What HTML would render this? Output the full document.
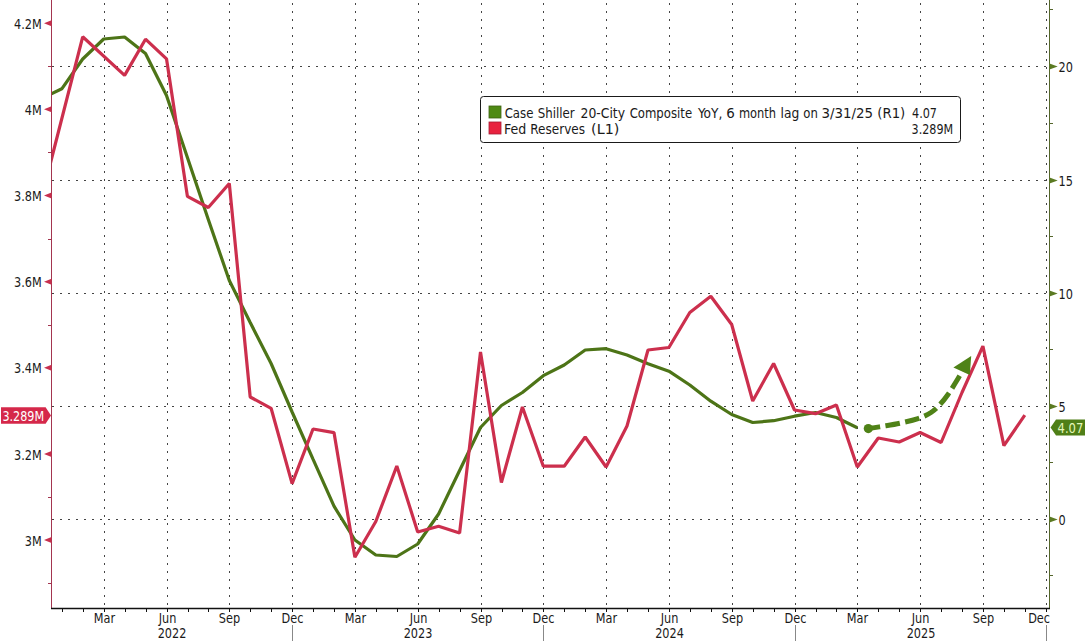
<!DOCTYPE html>
<html><head><meta charset="utf-8"><title>Case Shiller vs Fed Reserves</title>
<style>html,body{margin:0;padding:0;background:#fff;width:1085px;height:641px;overflow:hidden}body{position:relative}</style>
</head><body>
<svg width="1085" height="641" viewBox="0 0 1085 641" style="position:absolute;left:0;top:0">
<defs><clipPath id="plot"><rect x="52" y="0" width="997" height="608"/></clipPath></defs>
<line x1="52" y1="66.5" x2="1046.5" y2="66.5" stroke="#444" stroke-width="1" stroke-dasharray="2 6"/>
<line x1="52" y1="180.5" x2="1046.5" y2="180.5" stroke="#444" stroke-width="1" stroke-dasharray="2 6"/>
<line x1="52" y1="293.5" x2="1046.5" y2="293.5" stroke="#444" stroke-width="1" stroke-dasharray="2 6"/>
<line x1="52" y1="406.5" x2="1046.5" y2="406.5" stroke="#444" stroke-width="1" stroke-dasharray="2 6"/>
<line x1="52" y1="519.5" x2="1046.5" y2="519.5" stroke="#444" stroke-width="1" stroke-dasharray="2 6"/>
<line x1="104.5" y1="0" x2="104.5" y2="607.5" stroke="#444" stroke-width="1" stroke-dasharray="2 6" stroke-dashoffset="5"/>
<line x1="167.5" y1="0" x2="167.5" y2="607.5" stroke="#444" stroke-width="1" stroke-dasharray="2 6" stroke-dashoffset="5"/>
<line x1="229.5" y1="0" x2="229.5" y2="607.5" stroke="#444" stroke-width="1" stroke-dasharray="2 6" stroke-dashoffset="5"/>
<line x1="292.5" y1="0" x2="292.5" y2="607.5" stroke="#444" stroke-width="1" stroke-dasharray="2 6" stroke-dashoffset="5"/>
<line x1="355.5" y1="0" x2="355.5" y2="607.5" stroke="#444" stroke-width="1" stroke-dasharray="2 6" stroke-dashoffset="5"/>
<line x1="418.5" y1="0" x2="418.5" y2="607.5" stroke="#444" stroke-width="1" stroke-dasharray="2 6" stroke-dashoffset="5"/>
<line x1="481.5" y1="0" x2="481.5" y2="607.5" stroke="#444" stroke-width="1" stroke-dasharray="2 6" stroke-dashoffset="5"/>
<line x1="543.5" y1="0" x2="543.5" y2="607.5" stroke="#444" stroke-width="1" stroke-dasharray="2 6" stroke-dashoffset="5"/>
<line x1="606.5" y1="0" x2="606.5" y2="607.5" stroke="#444" stroke-width="1" stroke-dasharray="2 6" stroke-dashoffset="5"/>
<line x1="669.5" y1="0" x2="669.5" y2="607.5" stroke="#444" stroke-width="1" stroke-dasharray="2 6" stroke-dashoffset="5"/>
<line x1="732.5" y1="0" x2="732.5" y2="607.5" stroke="#444" stroke-width="1" stroke-dasharray="2 6" stroke-dashoffset="5"/>
<line x1="795.5" y1="0" x2="795.5" y2="607.5" stroke="#444" stroke-width="1" stroke-dasharray="2 6" stroke-dashoffset="5"/>
<line x1="857.5" y1="0" x2="857.5" y2="607.5" stroke="#444" stroke-width="1" stroke-dasharray="2 6" stroke-dashoffset="5"/>
<line x1="920.5" y1="0" x2="920.5" y2="607.5" stroke="#444" stroke-width="1" stroke-dasharray="2 6" stroke-dashoffset="5"/>
<line x1="983.5" y1="0" x2="983.5" y2="607.5" stroke="#444" stroke-width="1" stroke-dasharray="2 6" stroke-dashoffset="5"/>
<line x1="1046.5" y1="0" x2="1046.5" y2="607.5" stroke="#444" stroke-width="1" stroke-dasharray="2 6" stroke-dashoffset="5"/>
<g clip-path="url(#plot)" fill="none" stroke-linejoin="bevel" stroke-linecap="butt">
<polyline points="40.9,99.0 61.8,88.8 82.7,59.0 103.7,39.0 124.6,37.0 145.5,53.5 166.5,95.5 187.4,157.5 208.3,219.5 229.3,280.5 250.2,322.5 271.1,363.5 292.1,412.0 313.0,459.2 334.0,506.2 354.9,540.0 375.8,555.0 396.8,556.5 417.7,544.0 438.6,514.0 459.6,470.5 480.5,427.5 501.4,405.5 522.4,392.5 543.3,375.7 564.2,365.0 585.2,350.0 606.1,348.7 627.0,355.0 648.0,363.7 668.9,371.2 689.8,385.0 710.8,401.2 731.7,414.5 752.7,422.5 773.6,420.7 794.5,416.2 815.5,412.5 836.4,417.5 857.3,427.8" stroke="#4d7417" stroke-width="3.2"/>
<polyline points="40.9,200.5 82.7,36.8 124.6,75.4 145.5,39.2 166.5,58.8 187.4,196.3 208.3,207.5 229.3,183.5 250.2,397.0 271.1,408.3 292.1,483.6 313.0,429.0 334.0,432.6 354.9,557.3 375.8,521.5 396.8,466.0 417.7,532.0 438.6,526.2 459.6,533.0 480.5,352.0 501.4,482.5 522.4,407.0 543.3,466.2 564.2,466.2 585.2,437.0 606.1,467.0 627.0,426.0 648.0,350.0 668.9,347.5 689.8,312.5 710.8,296.2 731.7,324.5 752.7,401.0 773.6,363.5 794.5,410.0 815.5,413.7 836.4,405.0 857.3,467.0 878.3,438.0 899.2,442.0 920.1,432.5 941.1,442.5 962.0,392.5 982.9,346.2 1003.9,445.7 1024.8,415.2" stroke="#cc2f4d" stroke-width="3.2"/>
</g>
<path d="M868.3,428.6 C870.6,428.2 876.7,427.3 882,426.4 C887.3,425.5 894.0,424.5 900,423.2 C906.0,421.9 912.8,420.4 918,418.6 C923.2,416.8 927.3,414.9 931,412.5 C934.7,410.1 937.2,407.5 940,404.5 C942.8,401.5 945.5,398.0 948,394.5 C950.5,391.0 952.6,387.4 955,383.5 C957.4,379.6 960.8,373.9 962.5,371 C964.2,368.1 965.0,366.8 965.5,366" fill="none" stroke="#4f8217" stroke-width="5" stroke-dasharray="14.5 5.5" stroke-dashoffset="2.5"/>
<circle cx="868.3" cy="428.6" r="4.6" fill="#4f8217"/>
<polygon points="971.2,356 953.4,367.5 969.8,375" fill="#4f8217"/>
<line x1="51.5" y1="0" x2="51.5" y2="608.5" stroke="#a3354f" stroke-width="1"/>
<polygon points="51.5,20.2 51.5,26.2 44.0,23.2" fill="#c8304e"/>
<text transform="translate(41.70 28.80) scale(0.945 1)" text-anchor="end" font-family="'DejaVu Sans Condensed','DejaVu Sans','Liberation Sans',sans-serif" font-size="13.3" fill="#1a1a1a">4.2M</text>
<polygon points="51.5,106.35000000000008 51.5,112.35000000000008 44.0,109.35000000000008" fill="#c8304e"/>
<text transform="translate(41.70 114.95) scale(0.945 1)" text-anchor="end" font-family="'DejaVu Sans Condensed','DejaVu Sans','Liberation Sans',sans-serif" font-size="13.3" fill="#1a1a1a">4M</text>
<polygon points="51.5,192.50000000000014 51.5,198.50000000000014 44.0,195.50000000000014" fill="#c8304e"/>
<text transform="translate(41.70 201.10) scale(0.945 1)" text-anchor="end" font-family="'DejaVu Sans Condensed','DejaVu Sans','Liberation Sans',sans-serif" font-size="13.3" fill="#1a1a1a">3.8M</text>
<polygon points="51.5,278.65000000000003 51.5,284.65000000000003 44.0,281.65000000000003" fill="#c8304e"/>
<text transform="translate(41.70 287.25) scale(0.945 1)" text-anchor="end" font-family="'DejaVu Sans Condensed','DejaVu Sans','Liberation Sans',sans-serif" font-size="13.3" fill="#1a1a1a">3.6M</text>
<polygon points="51.5,364.80000000000007 51.5,370.80000000000007 44.0,367.80000000000007" fill="#c8304e"/>
<text transform="translate(41.70 373.40) scale(0.945 1)" text-anchor="end" font-family="'DejaVu Sans Condensed','DejaVu Sans','Liberation Sans',sans-serif" font-size="13.3" fill="#1a1a1a">3.4M</text>
<polygon points="51.5,450.95 51.5,456.95 44.0,453.95" fill="#c8304e"/>
<text transform="translate(41.70 459.55) scale(0.945 1)" text-anchor="end" font-family="'DejaVu Sans Condensed','DejaVu Sans','Liberation Sans',sans-serif" font-size="13.3" fill="#1a1a1a">3.2M</text>
<polygon points="51.5,537.1000000000001 51.5,543.1000000000001 44.0,540.1000000000001" fill="#c8304e"/>
<text transform="translate(41.70 545.70) scale(0.945 1)" text-anchor="end" font-family="'DejaVu Sans Condensed','DejaVu Sans','Liberation Sans',sans-serif" font-size="13.3" fill="#1a1a1a">3M</text>
<line x1="48.0" y1="66.5" x2="51.5" y2="66.5" stroke="#a3354f" stroke-width="1"/>
<line x1="48.0" y1="152.5" x2="51.5" y2="152.5" stroke="#a3354f" stroke-width="1"/>
<line x1="48.0" y1="239.5" x2="51.5" y2="239.5" stroke="#a3354f" stroke-width="1"/>
<line x1="48.0" y1="325.5" x2="51.5" y2="325.5" stroke="#a3354f" stroke-width="1"/>
<line x1="48.0" y1="497.5" x2="51.5" y2="497.5" stroke="#a3354f" stroke-width="1"/>
<line x1="48.0" y1="583.5" x2="51.5" y2="583.5" stroke="#a3354f" stroke-width="1"/>
<line x1="1049.5" y1="0" x2="1049.5" y2="608.5" stroke="#55662c" stroke-width="1"/>
<polygon points="1049.5,63.5 1049.5,69.5 1057.7,66.5" fill="#5b7a22"/>
<text transform="translate(1058.60 71.70) scale(0.945 1)" font-family="'DejaVu Sans Condensed','DejaVu Sans','Liberation Sans',sans-serif" font-size="13.3" fill="#1a1a1a">20</text>
<polygon points="1049.5,177.5 1049.5,183.5 1057.7,180.5" fill="#5b7a22"/>
<text transform="translate(1058.60 185.70) scale(0.945 1)" font-family="'DejaVu Sans Condensed','DejaVu Sans','Liberation Sans',sans-serif" font-size="13.3" fill="#1a1a1a">15</text>
<polygon points="1049.5,290.5 1049.5,296.5 1057.7,293.5" fill="#5b7a22"/>
<text transform="translate(1058.60 298.70) scale(0.945 1)" font-family="'DejaVu Sans Condensed','DejaVu Sans','Liberation Sans',sans-serif" font-size="13.3" fill="#1a1a1a">10</text>
<polygon points="1049.5,403.5 1049.5,409.5 1057.7,406.5" fill="#5b7a22"/>
<text transform="translate(1058.60 411.70) scale(0.945 1)" font-family="'DejaVu Sans Condensed','DejaVu Sans','Liberation Sans',sans-serif" font-size="13.3" fill="#1a1a1a">5</text>
<polygon points="1049.5,516.5 1049.5,522.5 1057.7,519.5" fill="#5b7a22"/>
<text transform="translate(1058.60 524.70) scale(0.945 1)" font-family="'DejaVu Sans Condensed','DejaVu Sans','Liberation Sans',sans-serif" font-size="13.3" fill="#1a1a1a">0</text>
<line x1="1049.5" y1="9.5" x2="1053.0" y2="9.5" stroke="#55662c" stroke-width="1"/>
<line x1="1049.5" y1="123.5" x2="1053.0" y2="123.5" stroke="#55662c" stroke-width="1"/>
<line x1="1049.5" y1="236.5" x2="1053.0" y2="236.5" stroke="#55662c" stroke-width="1"/>
<line x1="1049.5" y1="349.5" x2="1053.0" y2="349.5" stroke="#55662c" stroke-width="1"/>
<line x1="1049.5" y1="462.5" x2="1053.0" y2="462.5" stroke="#55662c" stroke-width="1"/>
<line x1="1049.5" y1="575.5" x2="1053.0" y2="575.5" stroke="#55662c" stroke-width="1"/>
<line x1="51.0" y1="608.5" x2="1050.0" y2="608.5" stroke="#111" stroke-width="1.3"/>
<line x1="62.5" y1="608.5" x2="62.5" y2="612.0" stroke="#111" stroke-width="1"/>
<line x1="83.5" y1="608.5" x2="83.5" y2="612.0" stroke="#111" stroke-width="1"/>
<line x1="104.5" y1="608.5" x2="104.5" y2="612.0" stroke="#111" stroke-width="1"/>
<line x1="125.5" y1="608.5" x2="125.5" y2="612.0" stroke="#111" stroke-width="1"/>
<line x1="146.5" y1="608.5" x2="146.5" y2="612.0" stroke="#111" stroke-width="1"/>
<line x1="167.5" y1="608.5" x2="167.5" y2="612.0" stroke="#111" stroke-width="1"/>
<line x1="188.5" y1="608.5" x2="188.5" y2="612.0" stroke="#111" stroke-width="1"/>
<line x1="208.5" y1="608.5" x2="208.5" y2="612.0" stroke="#111" stroke-width="1"/>
<line x1="229.5" y1="608.5" x2="229.5" y2="612.0" stroke="#111" stroke-width="1"/>
<line x1="250.5" y1="608.5" x2="250.5" y2="612.0" stroke="#111" stroke-width="1"/>
<line x1="271.5" y1="608.5" x2="271.5" y2="612.0" stroke="#111" stroke-width="1"/>
<line x1="292.5" y1="608.5" x2="292.5" y2="612.0" stroke="#111" stroke-width="1"/>
<line x1="313.5" y1="608.5" x2="313.5" y2="612.0" stroke="#111" stroke-width="1"/>
<line x1="334.5" y1="608.5" x2="334.5" y2="612.0" stroke="#111" stroke-width="1"/>
<line x1="355.5" y1="608.5" x2="355.5" y2="612.0" stroke="#111" stroke-width="1"/>
<line x1="376.5" y1="608.5" x2="376.5" y2="612.0" stroke="#111" stroke-width="1"/>
<line x1="397.5" y1="608.5" x2="397.5" y2="612.0" stroke="#111" stroke-width="1"/>
<line x1="418.5" y1="608.5" x2="418.5" y2="612.0" stroke="#111" stroke-width="1"/>
<line x1="439.5" y1="608.5" x2="439.5" y2="612.0" stroke="#111" stroke-width="1"/>
<line x1="460.5" y1="608.5" x2="460.5" y2="612.0" stroke="#111" stroke-width="1"/>
<line x1="481.5" y1="608.5" x2="481.5" y2="612.0" stroke="#111" stroke-width="1"/>
<line x1="502.5" y1="608.5" x2="502.5" y2="612.0" stroke="#111" stroke-width="1"/>
<line x1="522.5" y1="608.5" x2="522.5" y2="612.0" stroke="#111" stroke-width="1"/>
<line x1="543.5" y1="608.5" x2="543.5" y2="612.0" stroke="#111" stroke-width="1"/>
<line x1="564.5" y1="608.5" x2="564.5" y2="612.0" stroke="#111" stroke-width="1"/>
<line x1="585.5" y1="608.5" x2="585.5" y2="612.0" stroke="#111" stroke-width="1"/>
<line x1="606.5" y1="608.5" x2="606.5" y2="612.0" stroke="#111" stroke-width="1"/>
<line x1="627.5" y1="608.5" x2="627.5" y2="612.0" stroke="#111" stroke-width="1"/>
<line x1="648.5" y1="608.5" x2="648.5" y2="612.0" stroke="#111" stroke-width="1"/>
<line x1="669.5" y1="608.5" x2="669.5" y2="612.0" stroke="#111" stroke-width="1"/>
<line x1="690.5" y1="608.5" x2="690.5" y2="612.0" stroke="#111" stroke-width="1"/>
<line x1="711.5" y1="608.5" x2="711.5" y2="612.0" stroke="#111" stroke-width="1"/>
<line x1="732.5" y1="608.5" x2="732.5" y2="612.0" stroke="#111" stroke-width="1"/>
<line x1="753.5" y1="608.5" x2="753.5" y2="612.0" stroke="#111" stroke-width="1"/>
<line x1="774.5" y1="608.5" x2="774.5" y2="612.0" stroke="#111" stroke-width="1"/>
<line x1="795.5" y1="608.5" x2="795.5" y2="612.0" stroke="#111" stroke-width="1"/>
<line x1="816.5" y1="608.5" x2="816.5" y2="612.0" stroke="#111" stroke-width="1"/>
<line x1="836.5" y1="608.5" x2="836.5" y2="612.0" stroke="#111" stroke-width="1"/>
<line x1="857.5" y1="608.5" x2="857.5" y2="612.0" stroke="#111" stroke-width="1"/>
<line x1="878.5" y1="608.5" x2="878.5" y2="612.0" stroke="#111" stroke-width="1"/>
<line x1="899.5" y1="608.5" x2="899.5" y2="612.0" stroke="#111" stroke-width="1"/>
<line x1="920.5" y1="608.5" x2="920.5" y2="612.0" stroke="#111" stroke-width="1"/>
<line x1="941.5" y1="608.5" x2="941.5" y2="612.0" stroke="#111" stroke-width="1"/>
<line x1="962.5" y1="608.5" x2="962.5" y2="612.0" stroke="#111" stroke-width="1"/>
<line x1="983.5" y1="608.5" x2="983.5" y2="612.0" stroke="#111" stroke-width="1"/>
<line x1="1004.5" y1="608.5" x2="1004.5" y2="612.0" stroke="#111" stroke-width="1"/>
<line x1="1025.5" y1="608.5" x2="1025.5" y2="612.0" stroke="#111" stroke-width="1"/>
<line x1="1046.5" y1="608.5" x2="1046.5" y2="612.0" stroke="#111" stroke-width="1"/>
<text transform="translate(104.50 622.90) scale(0.945 1)" text-anchor="middle" font-family="'DejaVu Sans Condensed','DejaVu Sans','Liberation Sans',sans-serif" font-size="13.3" fill="#1a1a1a">Mar</text>
<text transform="translate(167.50 622.90) scale(0.945 1)" text-anchor="middle" font-family="'DejaVu Sans Condensed','DejaVu Sans','Liberation Sans',sans-serif" font-size="13.3" fill="#1a1a1a">Jun</text>
<text transform="translate(229.50 622.90) scale(0.945 1)" text-anchor="middle" font-family="'DejaVu Sans Condensed','DejaVu Sans','Liberation Sans',sans-serif" font-size="13.3" fill="#1a1a1a">Sep</text>
<text transform="translate(292.50 622.90) scale(0.945 1)" text-anchor="middle" font-family="'DejaVu Sans Condensed','DejaVu Sans','Liberation Sans',sans-serif" font-size="13.3" fill="#1a1a1a">Dec</text>
<text transform="translate(355.50 622.90) scale(0.945 1)" text-anchor="middle" font-family="'DejaVu Sans Condensed','DejaVu Sans','Liberation Sans',sans-serif" font-size="13.3" fill="#1a1a1a">Mar</text>
<text transform="translate(418.50 622.90) scale(0.945 1)" text-anchor="middle" font-family="'DejaVu Sans Condensed','DejaVu Sans','Liberation Sans',sans-serif" font-size="13.3" fill="#1a1a1a">Jun</text>
<text transform="translate(481.50 622.90) scale(0.945 1)" text-anchor="middle" font-family="'DejaVu Sans Condensed','DejaVu Sans','Liberation Sans',sans-serif" font-size="13.3" fill="#1a1a1a">Sep</text>
<text transform="translate(543.50 622.90) scale(0.945 1)" text-anchor="middle" font-family="'DejaVu Sans Condensed','DejaVu Sans','Liberation Sans',sans-serif" font-size="13.3" fill="#1a1a1a">Dec</text>
<text transform="translate(606.50 622.90) scale(0.945 1)" text-anchor="middle" font-family="'DejaVu Sans Condensed','DejaVu Sans','Liberation Sans',sans-serif" font-size="13.3" fill="#1a1a1a">Mar</text>
<text transform="translate(669.50 622.90) scale(0.945 1)" text-anchor="middle" font-family="'DejaVu Sans Condensed','DejaVu Sans','Liberation Sans',sans-serif" font-size="13.3" fill="#1a1a1a">Jun</text>
<text transform="translate(732.50 622.90) scale(0.945 1)" text-anchor="middle" font-family="'DejaVu Sans Condensed','DejaVu Sans','Liberation Sans',sans-serif" font-size="13.3" fill="#1a1a1a">Sep</text>
<text transform="translate(795.50 622.90) scale(0.945 1)" text-anchor="middle" font-family="'DejaVu Sans Condensed','DejaVu Sans','Liberation Sans',sans-serif" font-size="13.3" fill="#1a1a1a">Dec</text>
<text transform="translate(857.50 622.90) scale(0.945 1)" text-anchor="middle" font-family="'DejaVu Sans Condensed','DejaVu Sans','Liberation Sans',sans-serif" font-size="13.3" fill="#1a1a1a">Mar</text>
<text transform="translate(920.50 622.90) scale(0.945 1)" text-anchor="middle" font-family="'DejaVu Sans Condensed','DejaVu Sans','Liberation Sans',sans-serif" font-size="13.3" fill="#1a1a1a">Jun</text>
<text transform="translate(983.50 622.90) scale(0.945 1)" text-anchor="middle" font-family="'DejaVu Sans Condensed','DejaVu Sans','Liberation Sans',sans-serif" font-size="13.3" fill="#1a1a1a">Sep</text>
<text transform="translate(1050.00 622.90) scale(0.945 1)" text-anchor="end" font-family="'DejaVu Sans Condensed','DejaVu Sans','Liberation Sans',sans-serif" font-size="13.3" fill="#1a1a1a">Dec</text>
<line x1="292.5" y1="625" x2="292.5" y2="641" stroke="#888" stroke-width="1"/>
<line x1="543.5" y1="625" x2="543.5" y2="641" stroke="#888" stroke-width="1"/>
<line x1="795.5" y1="625" x2="795.5" y2="641" stroke="#888" stroke-width="1"/>
<line x1="1046.5" y1="625" x2="1046.5" y2="641" stroke="#888" stroke-width="1"/>
<text transform="translate(172.00 638.40) scale(0.945 1)" text-anchor="middle" font-family="'DejaVu Sans Condensed','DejaVu Sans','Liberation Sans',sans-serif" font-size="13.3" fill="#1a1a1a">2022</text>
<text transform="translate(418.00 638.40) scale(0.945 1)" text-anchor="middle" font-family="'DejaVu Sans Condensed','DejaVu Sans','Liberation Sans',sans-serif" font-size="13.3" fill="#1a1a1a">2023</text>
<text transform="translate(669.50 638.40) scale(0.945 1)" text-anchor="middle" font-family="'DejaVu Sans Condensed','DejaVu Sans','Liberation Sans',sans-serif" font-size="13.3" fill="#1a1a1a">2024</text>
<text transform="translate(921.00 638.40) scale(0.945 1)" text-anchor="middle" font-family="'DejaVu Sans Condensed','DejaVu Sans','Liberation Sans',sans-serif" font-size="13.3" fill="#1a1a1a">2025</text>
<polygon points="1,407.2 45.6,407.2 51,415.5 45.6,423.8 1,423.8" fill="#d5284a"/>
<text transform="translate(2.40 420.80) scale(0.936 1)" font-family="'DejaVu Sans Condensed','DejaVu Sans','Liberation Sans',sans-serif" font-size="13.3" fill="#ffffff">3.289M</text>
<polygon points="1085,419.4 1056,419.4 1050.5,427.5 1056,435.6 1085,435.6" fill="#4f7f17"/>
<text transform="translate(1057.50 432.50) scale(0.97 1)" font-family="'DejaVu Sans Condensed','DejaVu Sans','Liberation Sans',sans-serif" font-size="13.3" fill="#e4f7b8">4.07</text>
<rect x="480.5" y="96.5" width="480" height="46" rx="3" ry="3" fill="#fff" stroke="#1a1a1a" stroke-width="1"/>
<rect x="489" y="106" width="12" height="12" fill="#4f8a14" stroke="#3d6010" stroke-width="0.8"/>
<rect x="489" y="122" width="12" height="12" fill="#e8223f" stroke="#a51a33" stroke-width="0.8"/>
<text x="504.66" y="117.5" font-family="'DejaVu Sans Condensed','DejaVu Sans','Liberation Sans',sans-serif" font-size="13.3" textLength="28.77" lengthAdjust="spacingAndGlyphs" fill="#1a1a1a">Case</text>
<text x="537.76" y="117.5" font-family="'DejaVu Sans Condensed','DejaVu Sans','Liberation Sans',sans-serif" font-size="13.3" textLength="36.98" lengthAdjust="spacingAndGlyphs" fill="#1a1a1a">Shiller</text>
<text x="580.52" y="117.5" font-family="'DejaVu Sans Condensed','DejaVu Sans','Liberation Sans',sans-serif" font-size="13.3" textLength="44.48" lengthAdjust="spacingAndGlyphs" fill="#1a1a1a">20-City</text>
<text x="629.67" y="117.5" font-family="'DejaVu Sans Condensed','DejaVu Sans','Liberation Sans',sans-serif" font-size="13.3" textLength="62.43" lengthAdjust="spacingAndGlyphs" fill="#1a1a1a">Composite</text>
<text x="697.90" y="117.5" font-family="'DejaVu Sans Condensed','DejaVu Sans','Liberation Sans',sans-serif" font-size="13.3" textLength="24.43" lengthAdjust="spacingAndGlyphs" fill="#1a1a1a">YoY,</text>
<text x="726.16" y="117.5" font-family="'DejaVu Sans Condensed','DejaVu Sans','Liberation Sans',sans-serif" font-size="13.3" textLength="8.53" lengthAdjust="spacingAndGlyphs" fill="#1a1a1a">6</text>
<text x="738.94" y="117.5" font-family="'DejaVu Sans Condensed','DejaVu Sans','Liberation Sans',sans-serif" font-size="13.3" textLength="37.09" lengthAdjust="spacingAndGlyphs" fill="#1a1a1a">month</text>
<text x="780.47" y="117.5" font-family="'DejaVu Sans Condensed','DejaVu Sans','Liberation Sans',sans-serif" font-size="13.3" textLength="18.76" lengthAdjust="spacingAndGlyphs" fill="#1a1a1a">lag</text>
<text x="803.27" y="117.5" font-family="'DejaVu Sans Condensed','DejaVu Sans','Liberation Sans',sans-serif" font-size="13.3" textLength="14.51" lengthAdjust="spacingAndGlyphs" fill="#1a1a1a">on</text>
<text x="821.58" y="117.5" font-family="'DejaVu Sans Condensed','DejaVu Sans','Liberation Sans',sans-serif" font-size="13.3" textLength="51.47" lengthAdjust="spacingAndGlyphs" fill="#1a1a1a">3/31/25</text>
<text x="877.29" y="117.5" font-family="'DejaVu Sans Condensed','DejaVu Sans','Liberation Sans',sans-serif" font-size="13.3" textLength="28.03" lengthAdjust="spacingAndGlyphs" fill="#1a1a1a">(R1)</text>
<text x="504.08" y="133.5" font-family="'DejaVu Sans Condensed','DejaVu Sans','Liberation Sans',sans-serif" font-size="13.3" textLength="22.30" lengthAdjust="spacingAndGlyphs" fill="#1a1a1a">Fed</text>
<text x="530.34" y="133.5" font-family="'DejaVu Sans Condensed','DejaVu Sans','Liberation Sans',sans-serif" font-size="13.3" textLength="54.69" lengthAdjust="spacingAndGlyphs" fill="#1a1a1a">Reserves</text>
<text x="591.10" y="133.5" font-family="'DejaVu Sans Condensed','DejaVu Sans','Liberation Sans',sans-serif" font-size="13.3" textLength="28.23" lengthAdjust="spacingAndGlyphs" fill="#1a1a1a">(L1)</text>
<text transform="translate(912.00 117.60) scale(0.94 1)" font-family="'DejaVu Sans Condensed','DejaVu Sans','Liberation Sans',sans-serif" font-size="13.3" fill="#1a1a1a">4.07</text>
<text transform="translate(911.60 133.50) scale(0.934 1)" font-family="'DejaVu Sans Condensed','DejaVu Sans','Liberation Sans',sans-serif" font-size="13.3" fill="#1a1a1a">3.289M</text>
</svg>
</body></html>
